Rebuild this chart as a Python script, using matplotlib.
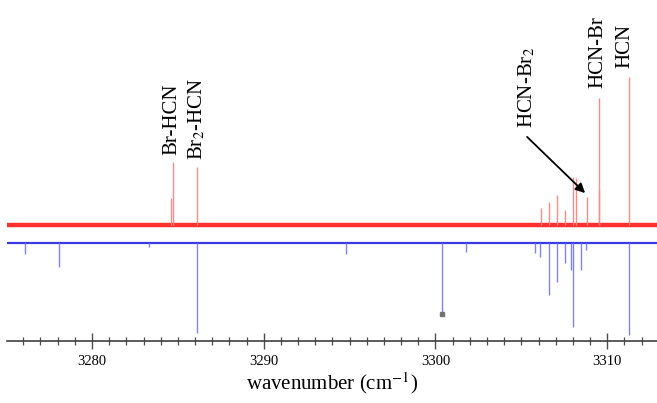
import matplotlib.pyplot as plt

# peak positions (cm-1) and intensities (arb. units)
red_pos = [3284.60, 3284.70, 3286.10, 3306.13, 3306.62, 3307.08, 3307.55,
           3308.01, 3308.19, 3308.81, 3309.50, 3309.55, 3311.29]
red_int = [0.27, 0.63, 0.58, 0.17, 0.23, 0.30, 0.15,
           0.48, 0.47, 0.28, 0.35, 1.27, 1.48]

blue_pos = [3276.1, 3278.1, 3283.3, 3286.1, 3294.8, 3300.4, 3301.8,
            3305.8, 3306.1, 3306.62, 3307.06, 3307.55, 3307.88, 3308.03,
            3308.46, 3308.77, 3311.29]
blue_int = [0.11, 0.24, 0.04, 0.90, 0.11, 0.69, 0.09,
            0.10, 0.14, 0.52, 0.39, 0.20, 0.27, 0.84,
            0.27, 0.07, 0.92]

red_base = 0.18
blue_base = 0.0

labels = ['Br-HCN', 'Br$_2$-HCN', 'HCN-Br$_2$', 'HCN-Br', 'HCN']
label_x = [3284.66, 3286.12, 3305.33, 3309.47, 3311.04]
label_y = [0.88, 0.83, 1.15, 1.55, 1.75]

plt.rcParams['font.family'] = ['Liberation Serif', 'DejaVu Serif']
plt.rcParams['mathtext.fontset'] = 'stix'

fig = plt.figure(figsize=(6.57, 4.03), dpi=100)
ax = fig.add_axes([7 / 657, 62 / 403, 650 / 657, 341 / 403])

# baselines (noisy band drawn as a thick line)
ax.axhline(red_base, color='#ff3030', lw=3.2, zorder=2)
ax.axhline(blue_base, color='#3a3ae6', lw=1.6, zorder=2)

# peaks
ax.vlines(red_pos, red_base, [red_base + h for h in red_int],
          color='#ff8a8a', lw=1.0, zorder=3)
ax.vlines(blue_pos, blue_base, [blue_base - h for h in blue_int],
          color='#8080ff', lw=1.0, zorder=3)

# small marker below the 3300 line
ax.plot([3300.4], [-0.71], marker='s', ms=3, color='0.45', zorder=4)

for txt, x, y in zip(labels, label_x, label_y):
    ax.text(x, y, txt, rotation=90, ha='center', va='bottom', fontsize=15)

ax.annotate('', xy=(3308.83, 0.48), xytext=(3305.22, 1.08),
            arrowprops=dict(arrowstyle='-|>', color='black', lw=1.3,
                            mutation_scale=14))

ax.set_xlim(3275.05, 3312.9)
ax.set_ylim(-0.98, 2.43)

for s in ['left', 'right', 'top']:
    ax.spines[s].set_visible(False)
ax.spines['bottom'].set_linewidth(1.2)
ax.spines['bottom'].set_color('0.25')
ax.set_yticks([])
ax.set_xticks([3280, 3290, 3300, 3310])
ax.set_xticks(range(3276, 3313), minor=True)
ax.tick_params(axis='x', which='major', direction='inout', length=12,
               width=1.0, color='0.3', labelsize=10.5, pad=4)
ax.tick_params(axis='x', which='minor', direction='inout', length=6,
               width=0.9, color='0.3')
ax.set_xlabel('wavenumber (cm$^{-1}$)', fontsize=15, labelpad=2)

fig.savefig('out.png', dpi=100)
